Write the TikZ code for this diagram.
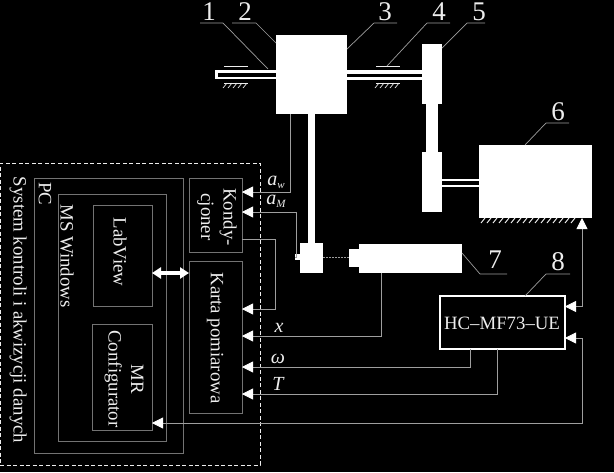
\documentclass[tikz,border=0pt]{standalone}
\usepackage{fontspec}
\setmainfont{Liberation Serif}
\usetikzlibrary{arrows.meta}
\definecolor{thinline}{gray}{0.62}
\definecolor{boxline}{gray}{0.45}
\definecolor{inkw}{gray}{0.93}
\newcommand{\nbox}[6]{\node[#6,minimum width={(#4-#2)*1pt},minimum height={(#5-#3)*1pt}] (#1) at ({(#2+#4)/2},{(#3+#5)/2}) {};}
\newcommand{\subsym}[2]{#1\raisebox{-3pt}{\fontsize{11}{11}\selectfont #2}}
\tikzset{
  solid block/.style={fill=white,draw=none,inner sep=0,outer sep=0},
  ctrl box/.style={draw=boxline,line width=0.8pt,fill=black,inner sep=0,outer sep=0},
  hc box/.style={draw=white,line width=2.8pt,fill=black,inner sep=0,outer sep=0},
  dash box/.style={draw=inkw,line width=0.8pt,dash pattern=on 4pt off 2.5pt,inner sep=0,outer sep=0},
  sig/.style={draw=thinline,line width=0.8pt},
  sigarrow/.style={sig,-{Triangle[color=white,fill=white,length=11pt,width=11pt]}},
  sigboth/.style={sig,{Triangle[color=white,fill=white,length=11pt,width=11pt]}-{Triangle[color=white,fill=white,length=11pt,width=11pt]}},
  bigarrow/.style={draw=white,line width=3.5pt,{Triangle[fill=white,length=9pt,width=11pt]}-{Triangle[fill=white,length=9pt,width=11pt]}},
  leader/.style={draw=thinline,line width=0.7pt},
  num/.style={text=inkw,font=\fontsize{27}{27}\selectfont,inner sep=0},
  vert/.style={text=inkw,rotate=-90,font=\fontsize{18.8}{22.5}\selectfont,inner sep=0,align=center},
  sym/.style={text=inkw,font=\fontsize{20}{20}\selectfont\itshape,inner sep=0},
  hcfont/.style={text=inkw,font=\fontsize{18.8}{19}\selectfont,inner sep=0},
  ground/.style={draw=inkw,line width=0.7pt},
}
\begin{document}
\begin{tikzpicture}[x=1pt,y=-1pt]
\fill[black] (0,0) rectangle (614,472);
\useasboundingbox (0,0) rectangle (614,472);
% mechanics
\nbox{shaftL}{215}{69.5}{276}{79}{solid block}
\fill[black] (218,72.5) rectangle (276,76.5);
\nbox{shaftR}{347}{70}{422}{80}{solid block}
\fill[black] (347,73.5) rectangle (422,76.5);
\nbox{gear}{276}{35}{347}{114}{solid block}
\nbox{rod}{308}{114}{315}{243}{solid block}
\nbox{accel}{300}{243}{323}{273}{solid block}
\nbox{stub}{295}{254}{300}{260}{solid block}
\nbox{pulleyA}{422}{44}{442}{104}{solid block}
\nbox{belt}{426}{104}{438}{152}{solid block}
\nbox{pulleyB}{422}{152}{442}{212}{solid block}
\nbox{shaftM}{442}{178.5}{479}{187}{solid block}
\fill[black] (442,180.5) rectangle (479,185);
\nbox{motor}{479}{145}{592}{218}{solid block}
\nbox{nose}{349}{249}{359}{267}{solid block}
\nbox{sensor}{359}{244}{462}{273}{solid block}
\draw[thinline,line width=0.8pt,dash pattern=on 1.5pt off 1.5pt] (accel.east |- 0,257) -- (nose.west |- 0,257);
% bearings and ground
\coordinate (bl1) at (224,66); \coordinate (bl2) at (248,66);
\coordinate (bl3) at (224,83); \coordinate (bl4) at (248,83);
\coordinate (br1) at (376,66); \coordinate (br2) at (400,66);
\coordinate (br3) at (376,83); \coordinate (br4) at (400,83);
\draw[ground,line width=1pt] (bl1) -- (bl2) (bl3) -- (bl4) (br1) -- (br2) (br3) -- (br4);
\foreach \x in {227,232,...,247} {\draw[ground] (\x,83) -- ++(-4,5);}
\foreach \x in {379,384,...,399} {\draw[ground] (\x,83) -- ++(-4,5);}
\foreach \x in {485,491,...,575} {\draw[ground,line width=1pt] (\x,218) -- ++(-4,5);}
% control boxes
\nbox{sys}{0}{163}{260}{465}{dash box}
\nbox{pc}{34}{178}{183}{453}{ctrl box}
\nbox{win}{58}{194}{166}{441}{ctrl box}
\nbox{lab}{93}{205}{152}{306}{ctrl box}
\nbox{mr}{92}{324}{152}{430}{ctrl box}
\nbox{kond}{189}{178}{242}{252}{ctrl box}
\nbox{karta}{189}{261}{242}{413}{ctrl box}
\nbox{hc}{440}{296}{565}{349}{hc box}
\draw[bigarrow] (lab.east |- 0,273) -- (karta.west |- 0,273);
% signals
\draw[sigarrow] (gear.south -| 290,0) |- (kond.east |- 0,192);
\draw[sigarrow] (stub.west) -| (296,212) -- (kond.east |- 0,212);
\draw[sigarrow] (kond.east |- 0,239) -| (275,309) -- (karta.east |- 0,309);
\draw[sigarrow] (sensor.south -| 381,0) |- (karta.east |- 0,336);
\draw[sigarrow] (hc.south -| 470,0) |- (karta.east |- 0,367);
\draw[sigarrow] (hc.south -| 497,0) |- (karta.east |- 0,394);
\draw[sigboth] (motor.south -| 582,0) -- (582,306.5) -- (hc.east |- 0,306.5);
\draw[sigboth] (hc.east |- 0,338) -| (582,423) -- (mr.east |- 0,423);
% leaders
\coordinate (l1) at (200,23); \coordinate (l1a) at (223,23);
\coordinate (l2) at (232,23); \coordinate (l2a) at (256,23);
\coordinate (l3) at (397,23); \coordinate (l3a) at (374,23);
\coordinate (l4) at (450,23); \coordinate (l4a) at (427,23);
\coordinate (l5) at (485,23); \coordinate (l5a) at (467,23);
\coordinate (l6) at (569,123); \coordinate (l6a) at (546,123);
\coordinate (l7) at (507,274); \coordinate (l7a) at (480,274);
\coordinate (l8) at (570,274); \coordinate (l8a) at (546,274);
\draw[leader] (l1) -- (l1a) -- (268,69);
\draw[leader] (l2) -- (l2a) -- (gear.north west |- 0,43);
\draw[leader] (l3) -- (l3a) -- (gear.east |- 0,49);
\draw[leader] (l4) -- (l4a) -- (br1 -| 387,0);
\draw[leader] (l5) -- (l5a) -- (pulleyA.east |- 0,48);
\draw[leader] (l6) -- (l6a) -- (motor.north -| 525,0);
\draw[leader] (l7) -- (l7a) -- (sensor.east |- 0,253);
\draw[leader] (l8) -- (l8a) -- (hc.north -| 525,0);
% numbers
\node[num] (n1) at (209,12) {1};
\node[num] (n2) at (245,12) {2};
\node[num] (n3) at (385,12) {3};
\node[num] (n4) at (439,12) {4};
\node[num] (n5) at (479,12) {5};
\node[num] (n6) at (558,112) {6};
\node[num] (n7) at (495,260) {7};
\node[num] (n8) at (558,262) {8};
% text
\node[vert] (tsys) at (18,310) {System kontroli i akwizycji danych};
\node[vert] (tpc) at (45,194) {PC};
\node[vert] (twin) at (67,256) {MS Windows};
\node[vert] (tlab) at (120,252) {LabView};
\node[vert] (tmr) at (124,379) {MR\\Configurator};
\node[vert] (tkond) at (217,217) {Kondy-\\cjoner};
\node[vert] (tkarta) at (215,338) {Karta pomiarowa};
\node[hcfont] (thc) at (502,323) {HC–MF73–UE};
\node[sym] (taw) at (276,182) {\subsym{a}{w}};
\node[sym] (tam) at (276,201) {\subsym{a}{M}};
\node[sym] (tx) at (279,328) {x};
\node[sym] (tom) at (278,359) {ω};
\node[sym] (tt) at (278,384) {T};
\end{tikzpicture}
\end{document}
